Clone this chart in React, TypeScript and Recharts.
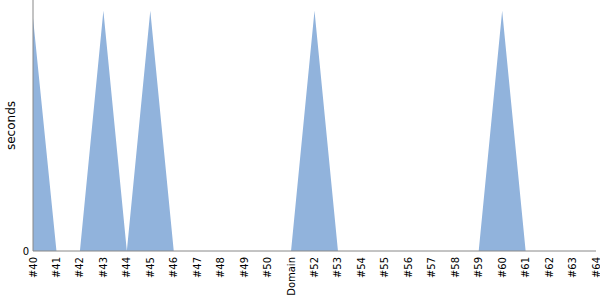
import React from 'react';
import { Area, AreaChart, XAxis, YAxis } from 'recharts';

const categories = [
  '#40', '#41', '#42', '#43', '#44', '#45', '#46', '#47', '#48', '#49', '#50',
  'Domain', '#52', '#53', '#54', '#55', '#56', '#57', '#58', '#59', '#60',
  '#61', '#62', '#63', '#64',
];

const seconds = [
  0.97, 0, 0, 1, 0, 1, 0, 0, 0, 0, 0,
  0, 1, 0, 0, 0, 0, 0, 0, 0, 1,
  0, 0, 0, 0,
];

const yTicks = [0];

const data = categories.map((name, i) => ({ name, seconds: seconds[i] }));

const FONT = '"DejaVu Sans", Verdana, sans-serif';

// vertical labels, reading bottom to top, ending just under the axis
const XTick = (props: any) => {
  const { x, y, payload } = props;
  return (
    <text
      x={x}
      y={y}
      transform={`rotate(-90, ${x}, ${y})`}
      textAnchor="end"
      dominantBaseline="central"
      fontSize={10}
      fontFamily={FONT}
      fill="#000"
    >
      {payload.value}
    </text>
  );
};

const YLabel = (props: any) => {
  const { viewBox } = props;
  const cx = 11;
  const cy = viewBox.y + viewBox.height / 2;
  return (
    <text
      x={cx}
      y={cy}
      transform={`rotate(-90, ${cx}, ${cy})`}
      textAnchor="middle"
      dominantBaseline="central"
      fontSize={12}
      fontFamily={FONT}
      fill="#000"
    >
      seconds
    </text>
  );
};

export default function App() {
  return (
    <div style={{ position: 'absolute', left: 0, top: 0 }}>
      <AreaChart
        width={600}
        height={300}
        data={data}
        margin={{ top: 0, right: 4, left: 0, bottom: 0 }}
      >
        <XAxis
          dataKey="name"
          interval={0}
          height={49}
          tickLine={false}
          tickSize={0}
          tickMargin={6}
          tick={<XTick />}
          stroke="#888888"
        />
        <YAxis
          width={33}
          domain={[0, 1.045]}
          ticks={yTicks}
          tickLine={false}
          tickSize={0}
          tickMargin={4}
          stroke="#888888"
          tick={{ fontSize: 10, fontFamily: FONT, fill: '#000' }}
          label={<YLabel />}
        />
        <Area
          type="linear"
          dataKey="seconds"
          stroke="none"
          fill="#91b3dc"
          fillOpacity={1}
          isAnimationActive={false}
        />
      </AreaChart>
    </div>
  );
}
